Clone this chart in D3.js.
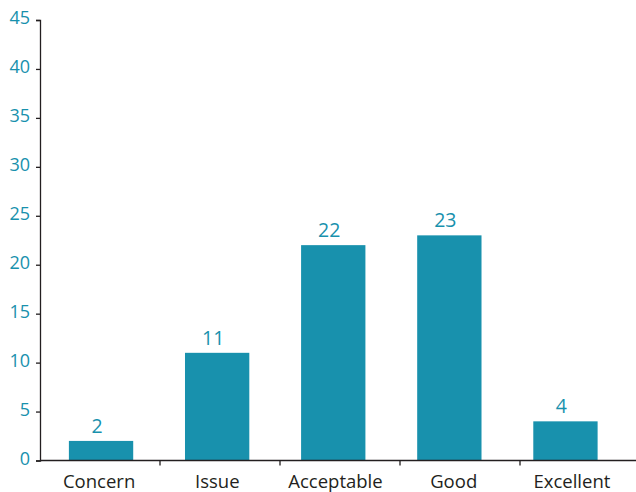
<!DOCTYPE html>
<html>
<head>
<meta charset="utf-8">
<script src="https://cdn.jsdelivr.net/npm/d3@7/dist/d3.min.js"></script>
<style>
  html, body { margin: 0; padding: 0; background: #ffffff; }
  svg { display: block; }
  text { font-family: "Open Sans", "Noto Sans", sans-serif; }
</style>
</head>
<body>
<svg id="chart" width="636" height="492"></svg>
<script>
// Ratings distribution
const categories = ["Concern", "Issue", "Acceptable", "Good", "Excellent"];
const counts = [2, 11, 22, 23, 4];
const yTicks = [0, 5, 10, 15, 20, 25, 30, 35, 40, 45];

const barColor = "#1891ad";
const tickLabelColor = "#1891ad";
const inkColor = "#231f20";

const svg = d3.select("#chart");

const y = d3.scaleLinear().domain([0, 45]).range([460.5, 20]);

// Axis segments (category boundaries) and bar placement
const xAxisBand = d3.scaleBand().domain(categories).range([40, 640]).padding(0);
const xBar = d3.scaleBand().domain(categories).range([43, 623.5]).paddingInner(0.446).paddingOuter(0.223);
const xLabel = d3.scaleBand().domain(categories).range([40, 631]).padding(0);

// Y axis
const yAxis = d3.axisLeft(y).tickValues(yTicks).tickSize(4).tickPadding(6).tickFormat(d3.format("d"));
const gy = svg.append("g").attr("transform", "translate(40,0)").call(yAxis);
gy.select(".domain").attr("stroke", inkColor).attr("stroke-width", 1.3);
gy.selectAll(".tick line").attr("stroke", inkColor).attr("stroke-width", 1.3);
gy.selectAll(".tick text")
  .attr("fill", tickLabelColor)
  .attr("font-size", 18)
  .attr("dy", "0.22em");

// Bars
svg.append("g").selectAll("rect")
  .data(categories)
  .join("rect")
  .attr("x", d => xBar(d))
  .attr("width", xBar.bandwidth())
  .attr("y", (d, i) => y(counts[i]))
  .attr("height", (d, i) => y(0) - y(counts[i]))
  .attr("fill", barColor);

// Value labels
svg.append("g").selectAll("text")
  .data(categories)
  .join("text")
  .attr("x", d => xBar(d) + xBar.bandwidth() / 2 - 4)
  .attr("y", (d, i) => y(counts[i]) - 8)
  .attr("text-anchor", "middle")
  .attr("font-size", 19.5)
  .attr("fill", tickLabelColor)
  .text((d, i) => counts[i]);

// X axis
const gx = svg.append("g");
gx.append("line")
  .attr("x1", 40).attr("x2", 636)
  .attr("y1", y(0)).attr("y2", y(0))
  .attr("stroke", inkColor).attr("stroke-width", 1.3);
gx.selectAll("line.tick")
  .data(categories.slice(1))
  .join("line")
  .attr("class", "tick")
  .attr("x1", d => xAxisBand(d)).attr("x2", d => xAxisBand(d))
  .attr("y1", y(0)).attr("y2", y(0) + 5)
  .attr("stroke", inkColor).attr("stroke-width", 1.3);
gx.selectAll("text")
  .data(categories)
  .join("text")
  .attr("x", d => xLabel(d) + xLabel.bandwidth() / 2)
  .attr("y", 488)
  .attr("text-anchor", "middle")
  .attr("font-size", 18.5)
  .attr("fill", inkColor)
  .text(d => d);
</script>
</body>
</html>
